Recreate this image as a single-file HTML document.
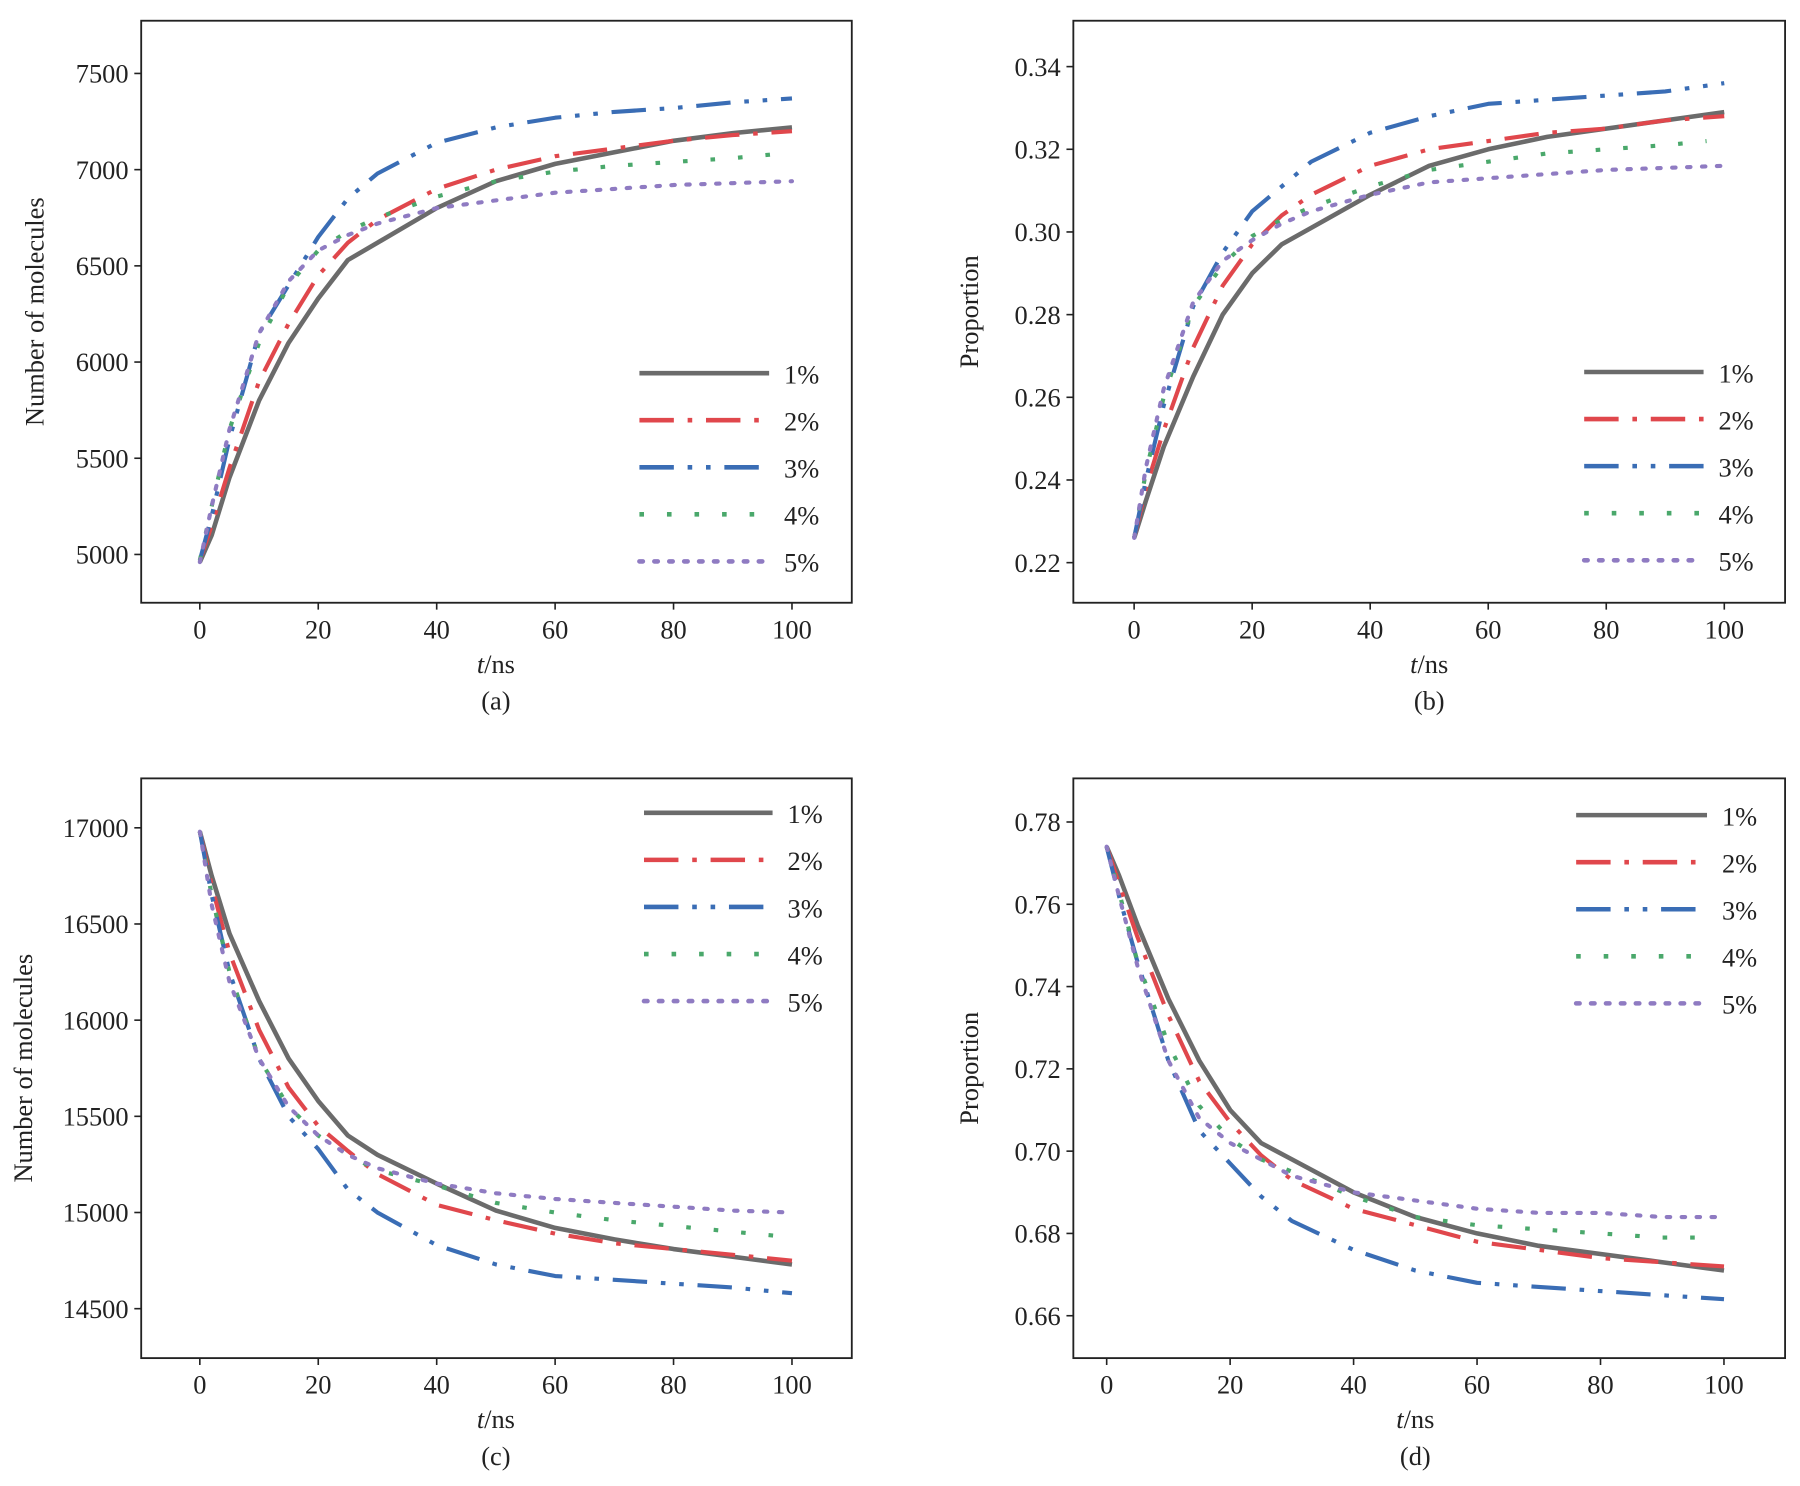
<!DOCTYPE html>
<html><head><meta charset="utf-8"><style>
html,body{margin:0;padding:0;background:#fff}
svg text{font-family:"Liberation Serif",serif;fill:#222}
</style></head><body>
<svg id="fig" xmlns="http://www.w3.org/2000/svg" width="1800" height="1481" viewBox="0 0 1568 1290"></svg>
<script>
const xs = [0,2,5,10,15,20,25,30,40,50,60,70,80,90,100];
const seriesLabels = ["1%","2%","3%","4%","5%"];
const aS1 = [4960,5100,5400,5800,6100,6330,6530,6620,6800,6940,7030,7090,7150,7190,7220];
const aS2 = [4970,5150,5450,5900,6200,6450,6620,6740,6900,7000,7070,7110,7150,7180,7200];
const aS3 = [4970,5200,5600,6150,6400,6650,6850,6980,7140,7220,7270,7300,7320,7350,7370];
const aS4 = [4970,5250,5650,6100,6400,6580,6680,6750,6860,6940,6990,7020,7040,7060,7080];
const aS5 = [4960,5250,5650,6150,6420,6580,6660,6720,6800,6840,6880,6900,6920,6930,6940];
const bS1 = [0.226,0.235,0.248,0.265,0.280,0.290,0.297,0.301,0.309,0.316,0.320,0.323,0.325,0.327,0.329];
const bS2 = [0.226,0.238,0.252,0.272,0.287,0.297,0.304,0.309,0.316,0.320,0.322,0.324,0.325,0.327,0.328];
const bS3 = [0.226,0.240,0.258,0.282,0.295,0.305,0.311,0.317,0.324,0.328,0.331,0.332,0.333,0.334,0.336];
const bS4 = [0.226,0.242,0.260,0.282,0.292,0.299,0.303,0.306,0.311,0.315,0.317,0.319,0.320,0.321,0.322];
const bS5 = [0.226,0.243,0.262,0.283,0.293,0.298,0.302,0.305,0.309,0.312,0.313,0.314,0.315,0.3155,0.316];
const cS1 = [16980,16750,16450,16100,15800,15580,15400,15300,15150,15010,14920,14860,14810,14770,14730];
const cS2 = [16980,16700,16350,15950,15650,15450,15320,15200,15040,14960,14890,14840,14810,14780,14750];
const cS3 = [16980,16650,16250,15800,15500,15330,15120,15000,14830,14730,14670,14650,14630,14610,14580];
const cS4 = [16980,16650,16250,15800,15550,15400,15300,15220,15140,15050,15000,14960,14930,14900,14880];
const cS5 = [16980,16600,16200,15800,15550,15400,15300,15230,15150,15100,15070,15050,15030,15010,15000];
const dS1 = [0.774,0.767,0.755,0.737,0.722,0.710,0.702,0.698,0.690,0.684,0.680,0.677,0.675,0.673,0.671];
const dS2 = [0.774,0.765,0.752,0.733,0.717,0.707,0.699,0.693,0.686,0.682,0.678,0.676,0.674,0.673,0.672];
const dS3 = [0.774,0.762,0.746,0.722,0.705,0.697,0.689,0.683,0.676,0.671,0.668,0.667,0.666,0.665,0.664];
const dS4 = [0.774,0.763,0.746,0.726,0.711,0.703,0.698,0.695,0.689,0.684,0.682,0.681,0.680,0.679,0.679];
const dS5 = [0.774,0.762,0.745,0.722,0.708,0.702,0.698,0.694,0.690,0.688,0.686,0.685,0.685,0.684,0.684];
const xTicks = [0,20,40,60,80,100];
const aTicks = [5000,5500,6000,6500,7000,7500];
const bTicks = [0.22,0.24,0.26,0.28,0.30,0.32,0.34];
const cTicks = [14500,15000,15500,16000,16500,17000];
const dTicks = [0.66,0.68,0.70,0.72,0.74,0.76,0.78];

const NS="http://www.w3.org/2000/svg";
const fig=document.getElementById('fig');
const colors=["#6b6b6b","#e0474c","#3a6db5","#4aa86b","#8f7bc2"];
const dashes=["","30 12 4 12","30 12 4 12 4 12","4 20","3 10"];
const caps=["butt","butt","butt","butt","round"];
function mk(tag,attrs,parent){const e=document.createElementNS(NS,tag);for(const k in attrs)e.setAttribute(k,attrs[k]);(parent||fig).appendChild(e);return e;}

function panel(o){
  const g=mk('g',{});
  
  
  const X=v=>o.L+(v-o.xd[0])/(o.xd[1]-o.xd[0])*(o.R-o.L);
  const Y=v=>o.B-(v-o.yd[0])/(o.yd[1]-o.yd[0])*(o.B-o.T);
  const fr=mk('rect',{x:o.L,y:o.T,width:o.R-o.L,height:o.B-o.T,fill:'none',stroke:'#222','stroke-width':1.6},g);
  
  
  xTicks.forEach(t=>{
    mk('line',{x1:X(t),x2:X(t),y1:o.B,y2:o.B+6,stroke:'#222','stroke-width':1.4},g);
    const tx=mk('text',{x:X(t),y:o.B+31,'text-anchor':'middle','font-size':23},g);
    tx.textContent=t;
    
    
  });
  o.yt.forEach(t=>{
    mk('line',{x1:o.L-6,x2:o.L,y1:Y(t),y2:Y(t),stroke:'#222','stroke-width':1.4},g);
    const tx=mk('text',{x:o.L-11,y:Y(t)+8,'text-anchor':'end','font-size':23},g);
    tx.textContent=o.fmt(t);
    
    
  });
  const xt=mk('text',{x:(X(0)+X(100))/2,y:o.B+61,'text-anchor':'middle','font-size':23},g);
  xt.innerHTML='<tspan font-style="italic">t</tspan>/ns';
  
  
  const cp=mk('text',{x:(X(0)+X(100))/2,y:o.B+93,'text-anchor':'middle','font-size':23},g);
  cp.textContent='('+o.id+')';
  
  
  const yt=mk('text',{x:o.ytx,y:(o.T+o.B)/2,'text-anchor':'middle','font-size':23,transform:`rotate(-90 ${o.ytx} ${(o.T+o.B)/2})`},g);
  yt.textContent=o.ytitle;
  
  
  o.series.forEach((s,i)=>{
    const n = s.length;
    let d='';
    for(let k=0;k<n;k++){let xv=xs[k];if(i===3&&k===n-1)xv=97;d+=(k?'L':'M')+X(xv).toFixed(1)+' '+Y(s[k]).toFixed(1);}
    const p=mk('path',{d:d,fill:'none',stroke:colors[i],'stroke-width':i===0?4:3.6,'stroke-dasharray':dashes[i],'stroke-linecap':caps[i],'stroke-linejoin':'round'},g);
    
    
    const ly=o.legY+i*41;
    const ll=mk('line',{x1:o.legX,x2:o.legX+o.legW,y1:ly,y2:ly,stroke:colors[i],'stroke-width':4,'stroke-dasharray':dashes[i],'stroke-linecap':caps[i]},g);
    
    
    const lt=mk('text',{x:o.legX+o.legW+13,y:ly+9,'font-size':23},g);
    lt.textContent=seriesLabels[i];
    
    
  });
}
const f0=v=>String(v), f2=v=>v.toFixed(2);
panel({id:'a',L:123,R:742,T:18,B:525,xd:[-9.9,110.1],yd:[4749,7774],yt:aTicks,fmt:f0,ytitle:'Number of molecules',ytx:38,series:[aS1,aS2,aS3,aS4,aS5],legX:557,legW:113,legY:325});
panel({id:'b',L:935,R:1555,T:18,B:525,xd:[-10.3,110.3],yd:[0.2103,0.3511],yt:bTicks,fmt:f2,ytitle:'Proportion',ytx:852,series:[bS1,bS2,bS3,bS4,bS5],legX:1380,legW:104,legY:324});
panel({id:'c',L:123,R:742,T:678,B:1183,xd:[-9.9,110.1],yd:[14243,17257],yt:cTicks,fmt:f0,ytitle:'Number of molecules',ytx:28,series:[cS1,cS2,cS3,cS4,cS5],legX:561,legW:112,legY:708});
panel({id:'d',L:935,R:1555,T:678,B:1183,xd:[-5.4,109.9],yd:[0.6497,0.7906],yt:dTicks,fmt:f2,ytitle:'Proportion',ytx:852,series:[dS1,dS2,dS3,dS4,dS5],legX:1373,legW:114,legY:710});
</script>
</body></html>
